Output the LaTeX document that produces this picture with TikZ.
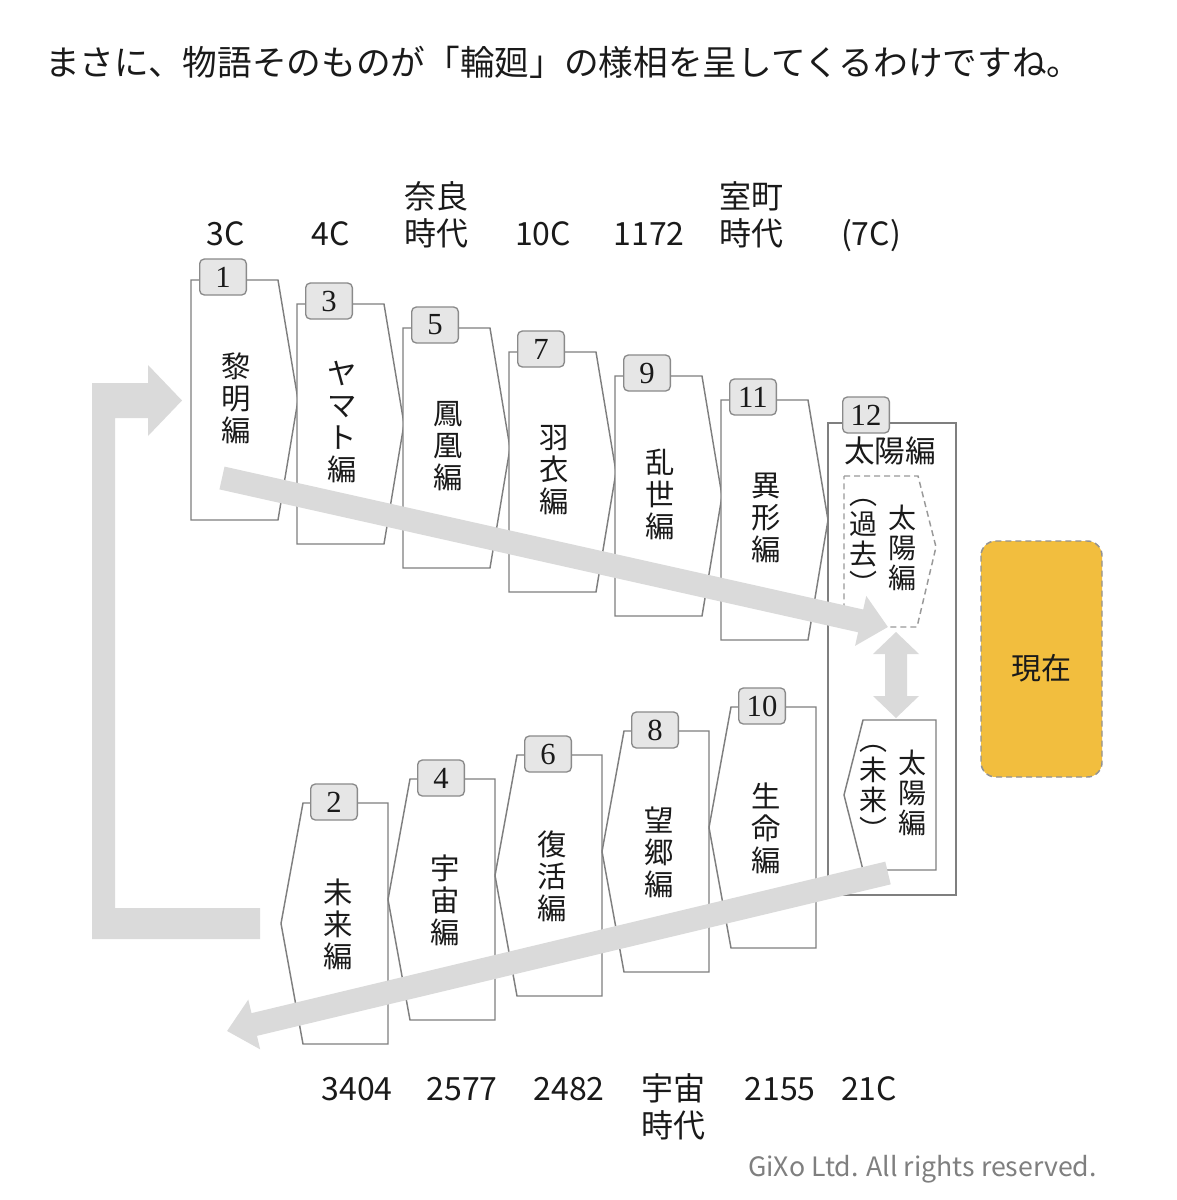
\documentclass[tikz,border=0pt]{standalone}
\usepackage{fontspec}
\setmainfont{Noto Sans CJK JP}
\newfontfamily\numfont{Liberation Serif}
\usetikzlibrary{arrows.meta}
\definecolor{boxline}{HTML}{7F7F7F}
\definecolor{tabfill}{HTML}{E6E6E6}
\definecolor{tabline}{HTML}{8A8A8A}
\definecolor{bandgray}{HTML}{DADADA}
\definecolor{nowfill}{HTML}{F2BE3E}
\definecolor{txt}{HTML}{1A1A1A}
\tikzset{
  epbox/.style={draw=boxline, line width=1.1pt, fill=white, line join=miter},
  pastbox/.style={draw=boxline!80, line width=1.1pt, dash pattern=on 4.5pt off 3pt, fill=white},
  numtab/.style={draw=tabline, fill=tabfill, rounded corners=3.5pt, line width=1pt,
    minimum width=35pt, minimum height=27pt, inner sep=0pt, text=txt,
    font=\numfont\fontsize{23pt}{23pt}\selectfont},
  vtext/.style={align=center, inner sep=0pt, text=txt, font=\fontsize{22pt}{24pt}\selectfont},
  vsmall/.style={align=center, inner sep=0pt, text=txt, font=\fontsize{21pt}{22.5pt}\selectfont},
  yearlbl/.style={anchor=base, inner sep=0pt, text=txt, font=\fontsize{24pt}{28pt}\selectfont},
  band/.style={line width=17.5pt, draw=bandgray, -{Triangle[length=21pt,width=37pt]}},
}
\begin{document}
\begin{tikzpicture}[x=0.75pt,y=-0.75pt]
\fill[white] (0,0) rectangle (1177,1200);
\useasboundingbox (0,0) rectangle (1177,1200);

% header
\node[anchor=west, inner sep=0pt, text=txt, font=\fontsize{26pt}{30pt}\selectfont] (title) at (45,62)
  {まさに、物語そのものが「輪廻」の様相を呈してくるわけですね。};

% top row shapes
\foreach \k in {0,...,5}{
  \pgfmathsetmacro\L{191+106*\k}
  \pgfmathsetmacro\T{280+24*\k}
  \draw[epbox] (\L,\T) -- ++(87,0) -- ++(20,120) -- ++(-20,120) -- ++(-87,0) -- cycle;
}
% bottom row shapes
\foreach \k in {0,...,4}{
  \pgfmathsetmacro\L{303+107*\k}
  \pgfmathsetmacro\T{803-24*\k}
  \draw[epbox] (\L,\T) -- ++(85,0) -- ++(0,241) -- ++(-85,0) -- ++(-22,-120.5) -- cycle;
}
% sun container
\draw[epbox] (828,423) rectangle (956,895);
\draw[pastbox] (844,476) -- (918,476) -- (936,547) -- (917,627) -- (844,627) -- cycle;
\draw[epbox] (863,720) -- (936,720) -- (936,870) -- (863,870) -- (844,795) -- cycle;

% present
\draw[fill=nowfill, draw=boxline!85, line width=1.1pt, dash pattern=on 4.5pt off 3pt, rounded corners=11pt]
  (981,541) rectangle (1102,777);
\node[inner sep=0pt, text=txt, font=\fontsize{22.5pt}{24pt}\selectfont] (now) at (1041,668) {現在};

% double arrow
\fill[bandgray] (896,632) -- (919,654) -- (907,654) -- (907,696) -- (919,696) -- (896,718)
  -- (873,696) -- (885,696) -- (885,654) -- (873,654) -- cycle;

% return arrow
\fill[bandgray] (260,939) -- (92,939) -- (92,383) -- (148,383) -- (148,365) -- (182,400.5)
  -- (148,436) -- (148,418) -- (115,418) -- (115,908) -- (260,908) -- cycle;

% diagonal bands
\coordinate (b1s) at (222,478);
\coordinate (b1e) at (888,627);
\coordinate (b2s) at (888,873);
\coordinate (b2e) at (227,1031);
\draw[band] (b1s) -- (b1e);
\draw[band] (b2s) -- (b2e);

% top row tabs and titles
\foreach \k/\n/\t in {0/1/{黎\\明\\編}, 1/3/{ヤ\\マ\\ト\\編}, 2/5/{鳳\\凰\\編}, 3/7/{羽\\衣\\編}, 4/9/{乱\\世\\編}, 5/11/{異\\形\\編}}{
  \pgfmathsetmacro\L{191+106*\k}
  \pgfmathsetmacro\T{280+24*\k}
  \node[numtab] (tab\n) at (\L+32,\T-3) {\n};
  \node[vtext] (ep\n) at (\L+45,\T+118) {\t};
}
% bottom row tabs and titles
\foreach \k/\n/\t in {0/2/{未\\来\\編}, 1/4/{宇\\宙\\編}, 2/6/{復\\活\\編}, 3/8/{望\\郷\\編}, 4/10/{生\\命\\編}}{
  \pgfmathsetmacro\L{303+107*\k}
  \pgfmathsetmacro\T{803-24*\k}
  \node[numtab] (tab\n) at (\L+31,\T-1) {\n};
  \node[vtext] (ep\n) at (\L+35,\T+121) {\t};
}
% sun
\node[numtab] (tab12) at (866,415) {12};
\node[inner sep=0pt, text=txt, font=\fontsize{23pt}{24pt}\selectfont] (sun) at (890,451) {太陽編};
\node[vsmall] (pastA) at (902,548) {太\\陽\\編};
\node[vsmall] (pastB) at (863,547) {︵\\過\\去\\︶};
\node[vsmall] (futA) at (912,793) {太\\陽\\編};
\node[vsmall] (futB) at (873,793) {︵\\未\\来\\︶};

% top labels
\node[yearlbl] (y1) at (226,245) {3C};
\node[yearlbl] (y3) at (331,245) {4C};
\node[yearlbl] (y5a) at (436,208) {奈良};
\node[yearlbl] (y5b) at (436,245) {時代};
\node[yearlbl] (y7) at (543,245) {10C};
\node[yearlbl] (y9) at (649,245) {1172};
\node[yearlbl] (y11a) at (751,208) {室町};
\node[yearlbl] (y11b) at (751,245) {時代};
\node[yearlbl] (y12) at (871,245) {(7C)};
% bottom labels
\node[yearlbl] (y2) at (357,1100) {3404};
\node[yearlbl] (y4) at (462,1100) {2577};
\node[yearlbl] (y6) at (569,1100) {2482};
\node[yearlbl] (y8a) at (673,1100) {宇宙};
\node[yearlbl] (y8b) at (673,1137) {時代};
\node[yearlbl] (y10) at (780,1100) {2155};
\node[yearlbl] (y12b) at (869,1100) {21C};

\node[anchor=base east, inner sep=0pt, text=boxline, font=\fontsize{20pt}{22pt}\selectfont] (copy) at (1097,1176)
  {GiXo Ltd. All rights reserved.};
\end{tikzpicture}
\end{document}
